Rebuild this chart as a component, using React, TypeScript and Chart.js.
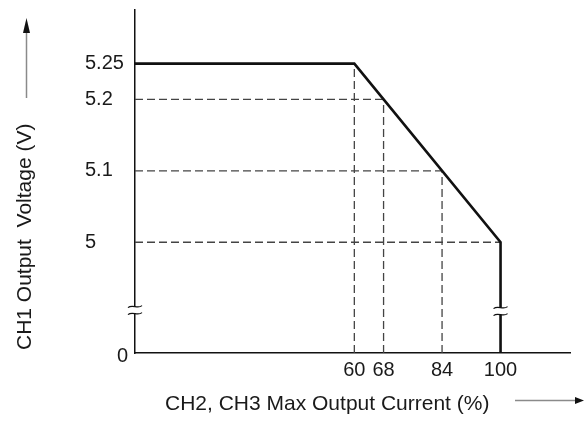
import React, { useEffect, useRef } from 'react';
import { Chart, registerables } from 'chart.js';

Chart.register(...registerables);

// ---- data ----
const Y_MIN = 4.845;
const Y_MAX = 5.325;
const X_MIN = 0;
const X_MAX = 119;

const currentPct = [0, 60, 100, 100];
const outputVoltage = [5.25, 5.25, 5.0, Y_MIN];

const xTickValues = [60, 68, 84, 100];
const yTickValues = [5, 5.1, 5.2, 5.25];
const yZeroLabel = '0';

// vertical dashed guides (from x-axis up to the curve)
const vGuideX = [60, 68, 84];
const vGuideY = [5.25, 5.2, 5.1];
// horizontal dashed guides (from y-axis to the curve)
const hGuideY = [5.2, 5.1, 5.0];
const hGuideX = [68, 84, 100];

const Y_BREAK = 4.905;
const X_BREAK_AT = 100;

const yTitle = 'CH1 Output  Voltage (V)';
const xTitle = 'CH2, CH3 Max Output Current (%)';

const FONT = '"Liberation Sans", Arial, Helvetica, sans-serif';
const TEXT = '#1a1a1a';
const LINE = '#111111';
const DASH = '#444444';
const ARROW_LINE = '#8a8a8a';

function drawBreak(ctx: CanvasRenderingContext2D, px: number, py: number, halfW: number) {
  ctx.save();
  ctx.fillStyle = '#ffffff';
  ctx.fillRect(px - 3, py - 3.5, 6, 7);
  ctx.strokeStyle = LINE;
  ctx.lineWidth = 1.3;
  for (const dy of [-3.5, 3.5]) {
    const yy = py + dy;
    ctx.beginPath();
    ctx.moveTo(px - halfW, yy + 1);
    ctx.bezierCurveTo(px - halfW / 3, yy - 3, px + halfW / 3, yy + 3, px + halfW, yy - 1);
    ctx.stroke();
  }
  ctx.restore();
}

const overlayPlugin = {
  id: 'overlay',
  afterDraw(chart: any) {
    const { ctx, scales, chartArea } = chart;
    const x = scales.x;
    const y = scales.y;
    ctx.save();
    // "0" tick label of the broken axis
    ctx.font = `20px ${FONT}`;
    ctx.fillStyle = TEXT;
    ctx.textAlign = 'right';
    ctx.textBaseline = 'middle';
    ctx.fillText(yZeroLabel, chartArea.left - 7, y.getPixelForValue(Y_MIN) + 3);

    // axis breaks
    const yb = y.getPixelForValue(Y_BREAK);
    drawBreak(ctx, chartArea.left, yb, 7);
    drawBreak(ctx, x.getPixelForValue(X_BREAK_AT), yb + 1, 7);

    // y title + arrow
    ctx.save();
    ctx.translate(25, chartArea.bottom - 3);
    ctx.rotate(-Math.PI / 2);
    ctx.font = `21px ${FONT}`;
    ctx.textAlign = 'left';
    ctx.textBaseline = 'middle';
    ctx.fillText(yTitle, 0, 0);
    ctx.restore();

    ctx.strokeStyle = ARROW_LINE;
    ctx.fillStyle = LINE;
    ctx.lineWidth = 1.5;
    ctx.beginPath();
    ctx.moveTo(26.5, 98);
    ctx.lineTo(26.5, 31);
    ctx.stroke();
    ctx.beginPath();
    ctx.moveTo(26.5, 18);
    ctx.lineTo(23, 33);
    ctx.lineTo(30, 33);
    ctx.closePath();
    ctx.fill();

    // x title + arrow
    ctx.font = `21px ${FONT}`;
    ctx.fillStyle = TEXT;
    ctx.textAlign = 'left';
    ctx.textBaseline = 'middle';
    ctx.fillText(xTitle, 165, 404);
    ctx.fillStyle = LINE;
    ctx.beginPath();
    ctx.moveTo(515, 400.5);
    ctx.lineTo(577, 400.5);
    ctx.stroke();
    ctx.beginPath();
    ctx.moveTo(584, 400.5);
    ctx.lineTo(575, 397);
    ctx.lineTo(575, 404);
    ctx.closePath();
    ctx.fill();
    ctx.restore();
  },
};

export default function App() {
  const canvasRef = useRef<HTMLCanvasElement | null>(null);

  useEffect(() => {
    document.body.style.margin = '0';
    const canvas = canvasRef.current;
    if (!canvas) return;

    const mainLine = {
      data: currentPct.map((v, i) => ({ x: v, y: outputVoltage[i] })),
      borderColor: LINE,
      borderWidth: 2.6,
      pointRadius: 0,
      showLine: true,
      tension: 0,
      borderJoinStyle: 'miter' as const,
    };
    const guideStyle = {
      borderColor: DASH,
      borderWidth: 1.3,
      borderDash: [8, 4],
      pointRadius: 0,
      showLine: true,
      tension: 0,
    };
    const vGuides = vGuideX.map((gx, i) => ({
      ...guideStyle,
      data: [
        { x: gx, y: Y_MIN },
        { x: gx, y: vGuideY[i] },
      ],
    }));
    const hGuides = hGuideY.map((gy, i) => ({
      ...guideStyle,
      data: [
        { x: X_MIN, y: gy },
        { x: hGuideX[i], y: gy },
      ],
    }));

    const chart = new Chart(canvas, {
      type: 'scatter',
      data: { datasets: [mainLine, ...vGuides, ...hGuides] as any },
      options: {
        animation: false,
        responsive: true,
        maintainAspectRatio: false,
        clip: false as any,
        layout: { padding: { left: 85, right: 14, top: 10, bottom: 40 } },
        plugins: { legend: { display: false }, tooltip: { enabled: false } },
        scales: {
          x: {
            type: 'linear',
            min: X_MIN,
            max: X_MAX,
            grid: { display: false, drawTicks: false },
            border: { display: true, color: LINE, width: 1.5 },
            ticks: {
              font: { family: FONT, size: 20 },
              color: TEXT,
              padding: 5,
              autoSkip: false,
              maxRotation: 0,
              callback: (v: any) => String(v),
            },
            afterBuildTicks: (s: any) => {
              s.ticks = xTickValues.map((v) => ({ value: v }));
            },
            afterFit: (s: any) => {
              s.height = 30;
              s.paddingLeft = 0;
              s.paddingRight = 0;
            },
          },
          y: {
            type: 'linear',
            min: Y_MIN,
            max: Y_MAX,
            grid: { display: false, drawTicks: false },
            border: { display: true, color: LINE, width: 1.5 },
            ticks: {
              font: { family: FONT, size: 20 },
              color: TEXT,
              crossAlign: 'far',
              autoSkip: false,
              callback: (v: any) => String(v),
            },
            afterBuildTicks: (s: any) => {
              s.ticks = yTickValues.map((v) => ({ value: v }));
            },
            afterFit: (s: any) => {
              s.width = 50;
              s.paddingTop = 0;
              s.paddingBottom = 0;
            },
          },
        },
      },
      plugins: [overlayPlugin],
    });

    return () => chart.destroy();
  }, []);

  return (
    <div style={{ position: 'relative', width: 584, height: 423, background: '#fff' }}>
      <canvas ref={canvasRef} />
    </div>
  );
}
